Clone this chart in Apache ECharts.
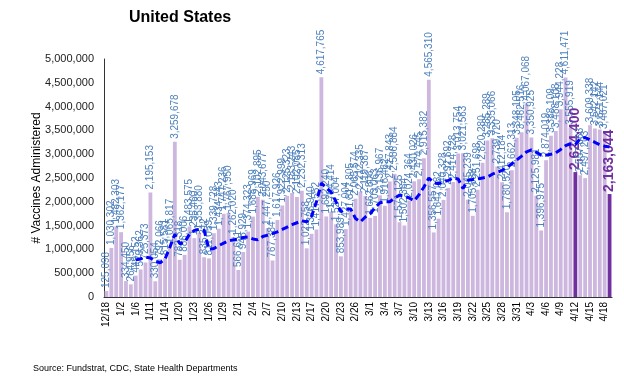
<!DOCTYPE html>
<html>
<head>
<meta charset="utf-8">
<script src="https://cdn.jsdelivr.net/npm/echarts@6/dist/echarts.min.js"></script>
<style>
html,body{margin:0;padding:0;background:#fff;}
#chart{width:624px;height:384px;}
</style>
</head>
<body>
<div id="chart"></div>
<script>
const categories = ['12/18','12/23','12/30','1/2','1/4','1/5','1/6','1/7','1/8','1/11','1/12','1/13','1/14','1/15','1/19','1/20','1/21','1/22','1/23','1/24','1/25','1/26','1/27','1/28','1/29','1/30','1/31','2/1','2/2','2/3','2/4','2/5','2/6','2/7','2/8','2/9','2/10','2/11','2/12','2/13','2/14','2/16','2/17','2/18','2/19','2/20','2/21','2/22','2/23','2/24','2/25','2/26','2/27','2/28','3/1','3/2','3/3','3/4','3/5','3/6','3/7','3/8','3/9','3/10','3/11','3/12','3/13','3/14','3/15','3/16','3/17','3/18','3/19','3/20','3/21','3/22','3/23','3/24','3/25','3/26','3/27','3/28','3/29','3/30','3/31','4/1','4/2','4/3','4/4','4/5','4/6','4/7','4/8','4/9','4/10','4/11','4/12','4/13','4/14','4/15','4/16','4/17','4/18','4/19'];

const doses = [125098,1030302,1482303,1362177,334450,264956,449152,579362,725373,2195153,
330054,792066,815581,1065817,3259678,782318,886006,1483575,1235460,1353880,
835312,811059,1339728,1434743,1747236,1767950,1262020,566651,945929,1374323,
1688969,2102895,2043677,1447250,767384,1617926,1922999,2125323,2183243,2102085,
2232313,1022758,1326940,1417552,4617765,1692240,1794414,1527004,853989,1427004,
1817805,2065574,2212335,2119387,1662806,1703063,2136967,1916462,2427843,2586884,
1571125,1502364,2024364,2430026,2474745,2915382,4565310,1356557,1647082,2040328,
2292692,2414728,3013754,3021563,2045239,1705688,2251698,2820280,3285289,3335066,
2739720,2412184,1780520,2662313,3348105,3462516,4067068,3350925,2125981,1396975,
2874019,3388109,3488108,3944228,4611471,3555919,2624400,2557883,2497203,3609338,
3542142,3521144,3467021,2163044];

const movingAvg = [null,null,null,null,null,null,780000,800000,840000,820000,
750000,720000,800000,1050000,1320000,1120000,1150000,1320000,1400000,1420000,
1400000,1000000,1020000,1080000,1130000,1180000,1200000,1220000,1250000,1260000,
1220000,1200000,1270000,1300000,1330000,1370000,1420000,1470000,1520000,1560000,
1600000,1580000,1700000,2000000,2390000,2300000,2200000,2000000,1790000,1850000,
1850000,1650000,1580000,1680000,1750000,1880000,1980000,2000000,2000000,2080000,
2140000,2120000,2080000,2020000,2150000,2310000,2500000,2400000,2380000,2420000,
2450000,2500000,2480000,2280000,2450000,2470000,2480000,2500000,2520000,2580000,
2620000,2660000,2720000,2800000,2880000,2960000,3050000,3090000,3040000,2980000,
2980000,3000000,3030000,3100000,3180000,3220000,3200000,3330000,3350000,3300000,
3250000,3200000,3170000,3150000];

const highlighted = ['4/12','4/19'];

const FONT = "'Liberation Sans Narrow','Arial Narrow','Liberation Sans',Arial,sans-serif";
const fmt = v => Number(v).toLocaleString('en-US');

const chart = echarts.init(document.getElementById('chart'), null, {renderer:'canvas'});

const barData = doses.map((v, i) => {
  const hi = highlighted.indexOf(categories[i]) >= 0;
  if (!hi) return v;
  return {
    value: v,
    itemStyle: {color: '#7030A0'},
    label: {fontSize: 14, fontWeight: 'bold', color: '#7030A0', distance: 2}
  };
});

chart.setOption({
  animation: false,
  textStyle: {fontFamily: FONT},
  title: {
    text: 'United States',
    left: 124, top: 5,
    textStyle: {fontFamily: FONT, fontSize: 16, fontWeight: 'bold', color: '#000'}
  },
  grid: {left: 104, right: 12, top: 59, bottom: 87},
  xAxis: {
    type: 'category',
    data: categories,
    axisLine: {lineStyle: {color: '#333', width: 1}},
    axisTick: {show: false},
    axisLabel: {
      interval: 2, rotate: 90, fontSize: 10, color: '#000', margin: 5,
      fontFamily: FONT
    }
  },
  yAxis: {
    type: 'value',
    min: 0, max: 5000000, interval: 500000,
    name: '# Vaccines Administered',
    nameLocation: 'middle',
    nameGap: 61,
    nameMoveOverlap: false,
    nameTextStyle: {fontSize: 12, color: '#000', fontFamily: FONT},
    axisLine: {show: true, lineStyle: {color: '#333', width: 1}},
    axisTick: {show: false},
    splitLine: {show: false},
    axisLabel: {formatter: v => fmt(v), fontSize: 11, color: '#222', margin: 10, fontFamily: FONT}
  },
  series: [
    {
      type: 'bar',
      data: barData,
      barCategoryGap: '22%',
      itemStyle: {color: '#CDB7DF'},
      label: {
        show: true, position: 'top', rotate: 90, align: 'left', verticalAlign: 'middle',
        distance: 3, fontSize: 10, color: '#4F81BD', fontFamily: FONT,
        formatter: p => fmt(p.value)
      },
      z: 2
    },
    {
      type: 'line',
      data: movingAvg,
      showSymbol: false,
      connectNulls: false,
      lineStyle: {color: '#0000FF', width: 3, type: [7, 4]},
      z: 3
    }
  ],
  graphic: [{
    type: 'text', left: 33, top: 364,
    style: {text: 'Source: Fundstrat, CDC, State Health Departments', fontSize: 9, fill: '#000', fontFamily: FONT}
  }]
});
</script>
</body>
</html>
